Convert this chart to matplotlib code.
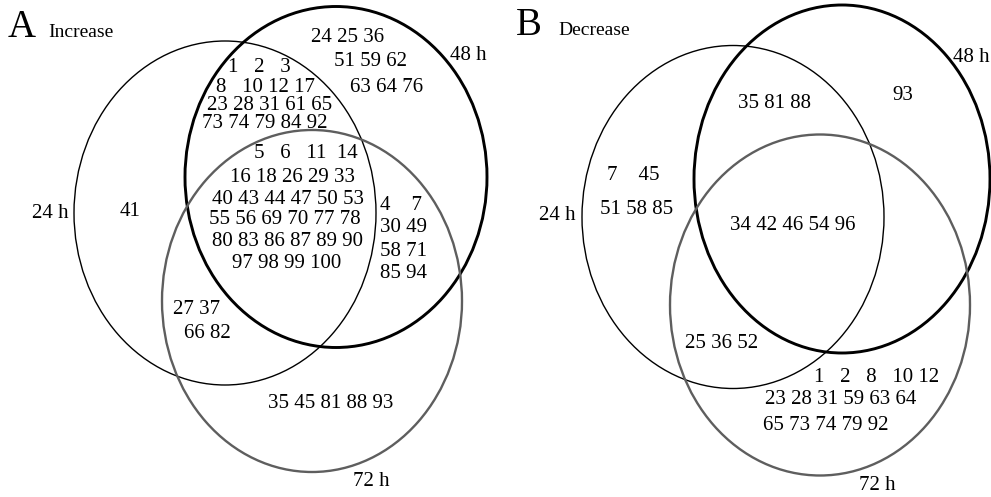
import matplotlib
matplotlib.use('Agg')
import matplotlib.pyplot as plt
from matplotlib.patches import Ellipse

# Venn diagrams of protein spot numbers (increase / decrease over time)
set_labels = ['24 h', '48 h', '72 h']

# Panel A: increase
inc_24_only = [[41]]
inc_48_only = [[24, 25, 36], [51, 59, 62], [63, 64, 76]]
inc_24_48 = [[1, 2, 3], [8, 10, 12, 17], [23, 28, 31, 61, 65], [73, 74, 79, 84, 92]]
inc_all = [[5, 6, 11, 14], [16, 18, 26, 29, 33], [40, 43, 44, 47, 50, 53],
           [55, 56, 69, 70, 77, 78], [80, 83, 86, 87, 89, 90], [97, 98, 99, 100]]
inc_48_72 = [[4, 7], [30, 49], [58, 71], [85, 94]]
inc_24_72 = [[27, 37], [66, 82]]
inc_72_only = [[35, 45, 81, 88, 93]]

# Panel B: decrease
dec_24_only = [[7, 45], [51, 58, 85]]
dec_24_48 = [[35, 81, 88]]
dec_48_only = [[93]]
dec_all = [[34, 42, 46, 54, 96]]
dec_24_72 = [[25, 36, 52]]
dec_72_only = [[1, 2, 8, 10, 12], [23, 28, 31, 59, 63, 64], [65, 73, 74, 79, 92]]

plt.rcParams['font.family'] = ['Liberation Serif', 'DejaVu Serif']

FS = 15
W, H = 991, 497
fig = plt.figure(figsize=(W / 100, H / 100), dpi=100)
ax = fig.add_axes([0, 0, 1, 1])
ax.set_xlim(0, W)
ax.set_ylim(H, 0)
ax.axis('off')

# ellipse styles: 24 h thin black, 48 h thick black, 72 h grey
styles = [dict(ec='black', lw=1.0), dict(ec='black', lw=2.1), dict(ec='#5e5e5e', lw=1.7)]


def venn(ellipses):
    for (cx, cy, w, h), st in zip(ellipses, styles):
        ax.add_patch(Ellipse((cx, cy), w, h, fc='none', **st))


def rows(groups, anchors, sep=' ', ha='center'):
    for nums, (x, y) in zip(groups, anchors):
        ax.text(x, y, sep.join(str(n) for n in nums), fontsize=FS,
                ha=ha, va='center')


# ---- panel A ----
venn([(225, 213, 302, 344), (336, 177, 302, 341), (312, 301, 300, 342)])
ax.text(8, 37, 'A', fontsize=28, va='baseline')
ax.text(48, 37, 'Increase', fontsize=14, va='baseline')
ax.text(50, 213, set_labels[0], fontsize=15, ha='center', va='center')
ax.text(468, 55, set_labels[1], fontsize=15, ha='center', va='center')
ax.text(371, 482, set_labels[2], fontsize=15, ha='center', va='center')

rows(inc_24_only, [(130, 212)])
rows(inc_48_only, [(348, 37), (370, 62), (387, 88)])
rows(inc_24_48[:1], [(259, 68)], sep='   ')
ax.text(265, 87, '8   ' + ' '.join(str(n) for n in inc_24_48[1][1:]),
        fontsize=FS, ha='center', va='center')
rows(inc_24_48[2:], [(270, 106), (265, 123)])
ax.text(306, 153, '5   6   ' + '  '.join(str(n) for n in inc_all[0][2:]),
        fontsize=FS, ha='center', va='center')
rows(inc_all[1:], [(293, 177), (288, 199), (285, 220), (288, 242), (287, 263)])
rows(inc_48_72[:1], [(380, 205)], sep='    ', ha='left')
rows(inc_48_72[1:], [(380, 228), (380, 252), (380, 273)], ha='left')
rows(inc_24_72, [(197, 309), (207, 333)])
rows(inc_72_only, [(331, 404)])

# ---- panel B ----
venn([(733, 217, 302, 343), (842, 179, 296, 348), (820, 305, 300, 341)])
ax.text(516, 35, 'B', fontsize=28, va='baseline')
ax.text(558, 35, 'Decrease', fontsize=14, va='baseline')
ax.text(557, 215, set_labels[0], fontsize=15, ha='center', va='center')
ax.text(971, 58, set_labels[1], fontsize=15, ha='center', va='center')
ax.text(877, 486, set_labels[2], fontsize=15, ha='center', va='center')

rows(dec_24_only[:1], [(607, 176)], sep='    ', ha='left')
rows(dec_24_only[1:], [(637, 209)])
rows(dec_24_48, [(774, 103)])
rows(dec_48_only, [(903, 95)])
rows(dec_all, [(793, 225)])
rows(dec_24_72, [(722, 343)])
ax.text(877, 377, '1   2   8   ' + ' '.join(str(n) for n in dec_72_only[0][3:]),
        fontsize=FS, ha='center', va='center')
rows(dec_72_only[1:], [(841, 400), (826, 426)])

fig.savefig('out.png', dpi=100, facecolor='white')
